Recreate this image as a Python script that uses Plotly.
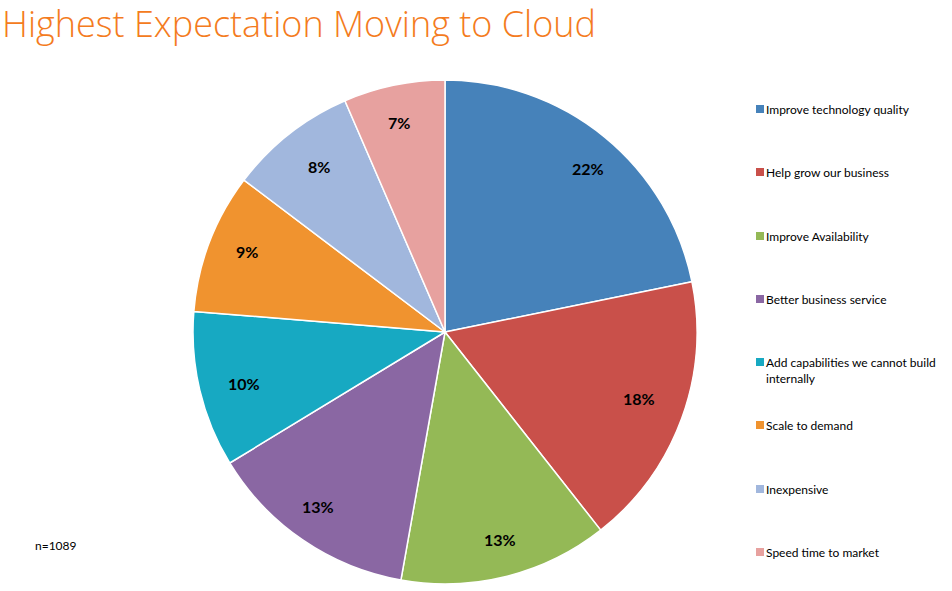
import math
import plotly.graph_objects as go

categories = [
    "Improve technology quality",
    "Help grow our business",
    "Improve Availability",
    "Better business service",
    "Add capabilities we cannot build<br>internally",
    "Scale to demand",
    "Inexpensive",
    "Speed time to market",
]
values = [21.8, 17.6, 13.4, 13.5, 10.0, 9.0, 8.2, 6.5]
pct_labels = ["22%", "18%", "13%", "13%", "10%", "9%", "8%", "7%"]
colors = ["#4682BA", "#C9504A", "#94B956", "#8A67A3", "#17A9C2", "#F0932F", "#A1B7DD", "#E7A19F"]

W, H = 952, 591
cx, cy, R = 445, 332, 252

fig = go.Figure()
fig.add_trace(go.Pie(
    labels=categories, values=values, sort=False, direction="clockwise", rotation=0,
    marker=dict(colors=colors, line=dict(color="white", width=1.5)),
    textinfo="none", hoverinfo="label+percent", showlegend=False,
    domain=dict(x=[(cx - R) / W, (cx + R) / W], y=[1 - (cy + R) / H, 1 - (cy - R) / H]),
))

annotations = []
# slice labels placed along each slice's mid-angle
total = sum(values)
cum = 0.0
for v, lab in zip(values, pct_labels):
    mid = (cum + v / 2) / total * 2 * math.pi
    cum += v
    r = 0.895 * R
    px = cx + r * math.sin(mid)
    py = cy - r * math.cos(mid)
    annotations.append(dict(x=px / W, y=1 - py / H, xref="paper", yref="paper", text=lab,
                            showarrow=False, font=dict(family="Lato", size=16, color="black", weight="bold")))

# legend built as text + squares
leg_y = [109, 172, 236, 299, 362, 425, 489, 552]
shapes = []
for cat, col, yy in zip(categories, colors, leg_y):
    shapes.append(dict(type="rect", xref="paper", yref="paper",
                       x0=756 / W, x1=764 / W, y0=1 - (yy + 4) / H, y1=1 - (yy - 4) / H,
                       fillcolor=col, line=dict(width=0)))
    annotations.append(dict(x=765 / W, y=1 - (yy - 8) / H, xref="paper", yref="paper", text=cat,
                            xanchor="left", yanchor="top", align="left", showarrow=False, borderpad=0,
                            font=dict(family="Lato", size=12, color="black")))

annotations.append(dict(x=33 / W, y=1 - 545 / H, xref="paper", yref="paper", text="n=1089",
                        xanchor="left", yanchor="middle", showarrow=False,
                        font=dict(family="Lato", size=12, color="black")))

fig.update_layout(
    width=W, height=H,
    margin=dict(l=0, r=0, t=0, b=0),
    paper_bgcolor="white", plot_bgcolor="white",
    title=dict(text="Highest Expectation Moving to Cloud", x=2 / W, xanchor="left", xref="paper",
               y=1 - 24 / H, yanchor="middle", yref="paper",
               font=dict(family="Open Sans", size=36, color="#F47B20", weight=300)),
    annotations=annotations, shapes=shapes,
)

fig.write_html("out.html")
